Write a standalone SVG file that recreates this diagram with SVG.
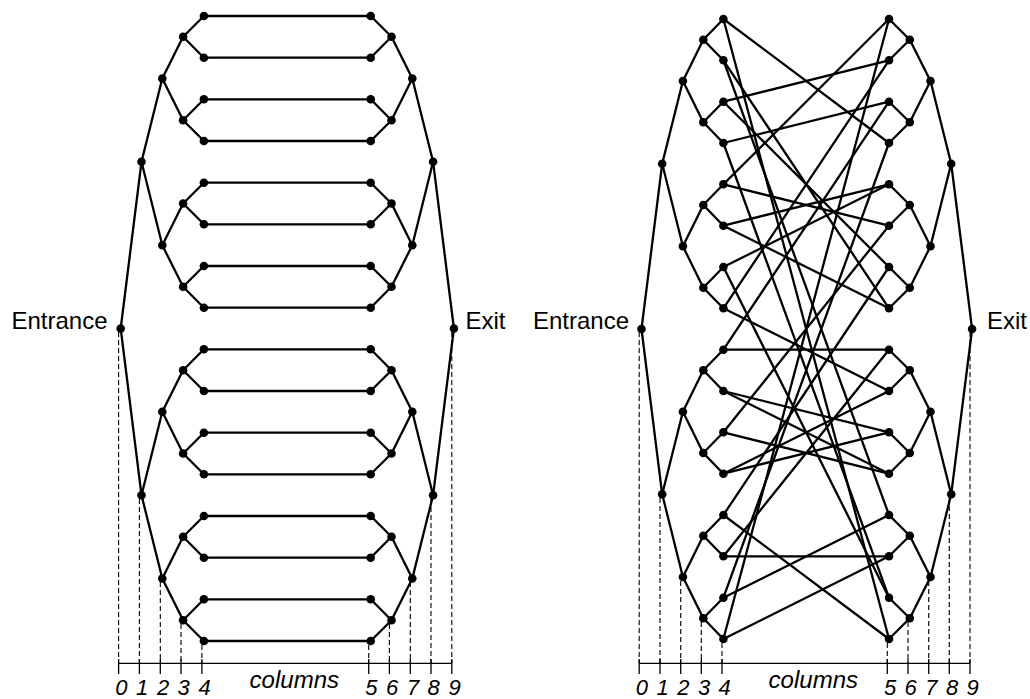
<svg xmlns="http://www.w3.org/2000/svg" width="1030" height="699" viewBox="0 0 1030 699">
<style>
.e line{stroke:#000;stroke-width:2.3;stroke-linecap:round}
.n circle{fill:#000}
.d line{stroke:#000;stroke-width:1.1;stroke-dasharray:5 3}
.ax line{stroke:#000;stroke-width:1.3}
text{font-family:"Liberation Sans",Arial,sans-serif;fill:#000}
.lab{font-size:24px}
.num{font-size:22px;font-style:italic;text-anchor:middle}
.col{font-size:24px;font-style:italic;text-anchor:middle}
</style>
<rect width="1030" height="699" fill="#fff"/>
<g id="axes-left" class="ax">
<line x1="118.6" y1="663.3" x2="451.8" y2="663.3"/>
<line x1="118.6" y1="659" x2="118.6" y2="674"/><line x1="139.4" y1="659" x2="139.4" y2="674"/><line x1="160.3" y1="659" x2="160.3" y2="674"/><line x1="181" y1="659" x2="181" y2="674"/><line x1="201.9" y1="659" x2="201.9" y2="674"/>
<line x1="368.7" y1="659" x2="368.7" y2="674"/><line x1="389.4" y1="659" x2="389.4" y2="674"/><line x1="410.3" y1="659" x2="410.3" y2="674"/><line x1="431" y1="659" x2="431" y2="674"/><line x1="451.8" y1="659" x2="451.8" y2="674"/>
</g>
<g id="axes-right" class="ax">
<line x1="639.2" y1="663.3" x2="970" y2="663.3"/>
<line x1="639.2" y1="659" x2="639.2" y2="674"/><line x1="660" y1="659" x2="660" y2="674"/><line x1="680.7" y1="659" x2="680.7" y2="674"/><line x1="701.3" y1="659" x2="701.3" y2="674"/><line x1="722" y1="659" x2="722" y2="674"/>
<line x1="887.3" y1="659" x2="887.3" y2="674"/><line x1="908" y1="659" x2="908" y2="674"/><line x1="928.7" y1="659" x2="928.7" y2="674"/><line x1="949.3" y1="659" x2="949.3" y2="674"/><line x1="970" y1="659" x2="970" y2="674"/>
</g>
<g id="column-guides" class="d">
<line x1="118.6" y1="332" x2="118.6" y2="663"/><line x1="139.4" y1="499" x2="139.4" y2="663"/><line x1="160.3" y1="582" x2="160.3" y2="663"/><line x1="181" y1="624" x2="181" y2="663"/><line x1="201.9" y1="645" x2="201.9" y2="663"/>
<line x1="368.7" y1="645" x2="368.7" y2="663"/><line x1="389.4" y1="624" x2="389.4" y2="663"/><line x1="410.3" y1="582" x2="410.3" y2="663"/><line x1="431" y1="499" x2="431" y2="663"/><line x1="451.8" y1="332" x2="451.8" y2="663"/>
<line x1="639.2" y1="332" x2="639.2" y2="663"/><line x1="660" y1="498" x2="660" y2="663"/><line x1="680.7" y1="581" x2="680.7" y2="663"/><line x1="701.3" y1="622" x2="701.3" y2="663"/><line x1="722" y1="643" x2="722" y2="663"/>
<line x1="887.3" y1="643" x2="887.3" y2="663"/><line x1="908" y1="622" x2="908" y2="663"/><line x1="928.7" y1="581" x2="928.7" y2="663"/><line x1="949.3" y1="498" x2="949.3" y2="663"/><line x1="970" y1="332" x2="970" y2="663"/>
</g>
<g id="axis-labels">
<text class="num" x="121.3" y="694.5">0</text><text class="num" x="142.1" y="694.5">1</text><text class="num" x="163" y="694.5">2</text><text class="num" x="183.7" y="694.5">3</text><text class="num" x="204.6" y="694.5">4</text>
<text class="num" x="371.4" y="694.5">5</text><text class="num" x="392.1" y="694.5">6</text><text class="num" x="413" y="694.5">7</text><text class="num" x="433.7" y="694.5">8</text><text class="num" x="454.5" y="694.5">9</text>
<text class="col" x="294.3" y="688">columns</text>
<text class="num" x="641.9" y="694.5">0</text><text class="num" x="662.7" y="694.5">1</text><text class="num" x="683.4" y="694.5">2</text><text class="num" x="704" y="694.5">3</text><text class="num" x="724.7" y="694.5">4</text>
<text class="num" x="890" y="694.5">5</text><text class="num" x="910.7" y="694.5">6</text><text class="num" x="931.4" y="694.5">7</text><text class="num" x="952" y="694.5">8</text><text class="num" x="972.7" y="694.5">9</text>
<text class="col" x="813.3" y="688">columns</text>
</g>
<g id="connectors" class="e">
<!-- left graph, entrance tree -->
<line x1="120.7" y1="328.5" x2="141.5" y2="161.8"/><line x1="120.7" y1="328.5" x2="141.5" y2="495.2"/>
<line x1="141.5" y1="161.8" x2="162.3" y2="78.5"/><line x1="141.5" y1="161.8" x2="162.3" y2="245.2"/><line x1="141.5" y1="495.2" x2="162.3" y2="411.8"/><line x1="141.5" y1="495.2" x2="162.3" y2="578.5"/>
<line x1="162.3" y1="78.5" x2="183.1" y2="36.8"/><line x1="162.3" y1="78.5" x2="183.1" y2="120.2"/><line x1="162.3" y1="245.2" x2="183.1" y2="203.5"/><line x1="162.3" y1="245.2" x2="183.1" y2="286.8"/>
<line x1="162.3" y1="411.8" x2="183.1" y2="370.2"/><line x1="162.3" y1="411.8" x2="183.1" y2="453.5"/><line x1="162.3" y1="578.5" x2="183.1" y2="536.8"/><line x1="162.3" y1="578.5" x2="183.1" y2="620.2"/>
<line x1="183.1" y1="36.8" x2="203.9" y2="16"/><line x1="183.1" y1="36.8" x2="203.9" y2="57.7"/><line x1="183.1" y1="120.2" x2="203.9" y2="99.3"/><line x1="183.1" y1="120.2" x2="203.9" y2="141"/>
<line x1="183.1" y1="203.5" x2="203.9" y2="182.7"/><line x1="183.1" y1="203.5" x2="203.9" y2="224.3"/><line x1="183.1" y1="286.8" x2="203.9" y2="266"/><line x1="183.1" y1="286.8" x2="203.9" y2="307.7"/>
<line x1="183.1" y1="370.2" x2="203.9" y2="349.3"/><line x1="183.1" y1="370.2" x2="203.9" y2="391"/><line x1="183.1" y1="453.5" x2="203.9" y2="432.7"/><line x1="183.1" y1="453.5" x2="203.9" y2="474.3"/>
<line x1="183.1" y1="536.8" x2="203.9" y2="516"/><line x1="183.1" y1="536.8" x2="203.9" y2="557.7"/><line x1="183.1" y1="620.2" x2="203.9" y2="599.3"/><line x1="183.1" y1="620.2" x2="203.9" y2="641"/>
<!-- left graph, glued leaves -->
<line x1="203.9" y1="16" x2="370.7" y2="16"/><line x1="203.9" y1="57.7" x2="370.7" y2="57.7"/><line x1="203.9" y1="99.3" x2="370.7" y2="99.3"/><line x1="203.9" y1="141" x2="370.7" y2="141"/>
<line x1="203.9" y1="182.7" x2="370.7" y2="182.7"/><line x1="203.9" y1="224.3" x2="370.7" y2="224.3"/><line x1="203.9" y1="266" x2="370.7" y2="266"/><line x1="203.9" y1="307.7" x2="370.7" y2="307.7"/>
<line x1="203.9" y1="349.3" x2="370.7" y2="349.3"/><line x1="203.9" y1="391" x2="370.7" y2="391"/><line x1="203.9" y1="432.7" x2="370.7" y2="432.7"/><line x1="203.9" y1="474.3" x2="370.7" y2="474.3"/>
<line x1="203.9" y1="516" x2="370.7" y2="516"/><line x1="203.9" y1="557.7" x2="370.7" y2="557.7"/><line x1="203.9" y1="599.3" x2="370.7" y2="599.3"/><line x1="203.9" y1="641" x2="370.7" y2="641"/>
<!-- left graph, exit tree -->
<line x1="453.9" y1="328.5" x2="433.1" y2="161.8"/><line x1="453.9" y1="328.5" x2="433.1" y2="495.2"/>
<line x1="433.1" y1="161.8" x2="412.3" y2="78.5"/><line x1="433.1" y1="161.8" x2="412.3" y2="245.2"/><line x1="433.1" y1="495.2" x2="412.3" y2="411.8"/><line x1="433.1" y1="495.2" x2="412.3" y2="578.5"/>
<line x1="412.3" y1="78.5" x2="391.5" y2="36.8"/><line x1="412.3" y1="78.5" x2="391.5" y2="120.2"/><line x1="412.3" y1="245.2" x2="391.5" y2="203.5"/><line x1="412.3" y1="245.2" x2="391.5" y2="286.8"/>
<line x1="412.3" y1="411.8" x2="391.5" y2="370.2"/><line x1="412.3" y1="411.8" x2="391.5" y2="453.5"/><line x1="412.3" y1="578.5" x2="391.5" y2="536.8"/><line x1="412.3" y1="578.5" x2="391.5" y2="620.2"/>
<line x1="391.5" y1="36.8" x2="370.7" y2="16"/><line x1="391.5" y1="36.8" x2="370.7" y2="57.7"/><line x1="391.5" y1="120.2" x2="370.7" y2="99.3"/><line x1="391.5" y1="120.2" x2="370.7" y2="141"/>
<line x1="391.5" y1="203.5" x2="370.7" y2="182.7"/><line x1="391.5" y1="203.5" x2="370.7" y2="224.3"/><line x1="391.5" y1="286.8" x2="370.7" y2="266"/><line x1="391.5" y1="286.8" x2="370.7" y2="307.7"/>
<line x1="391.5" y1="370.2" x2="370.7" y2="349.3"/><line x1="391.5" y1="370.2" x2="370.7" y2="391"/><line x1="391.5" y1="453.5" x2="370.7" y2="432.7"/><line x1="391.5" y1="453.5" x2="370.7" y2="474.3"/>
<line x1="391.5" y1="536.8" x2="370.7" y2="516"/><line x1="391.5" y1="536.8" x2="370.7" y2="557.7"/><line x1="391.5" y1="620.2" x2="370.7" y2="599.3"/><line x1="391.5" y1="620.2" x2="370.7" y2="641"/>
<!-- right graph, entrance tree -->
<line x1="641.5" y1="329" x2="662.2" y2="163.7"/><line x1="641.5" y1="329" x2="662.2" y2="494.3"/>
<line x1="662.2" y1="163.7" x2="682.9" y2="81"/><line x1="662.2" y1="163.7" x2="682.9" y2="246.3"/><line x1="662.2" y1="494.3" x2="682.9" y2="411.7"/><line x1="662.2" y1="494.3" x2="682.9" y2="577"/>
<line x1="682.9" y1="81" x2="703.3" y2="39.7"/><line x1="682.9" y1="81" x2="703.3" y2="122.3"/><line x1="682.9" y1="246.3" x2="703.3" y2="205"/><line x1="682.9" y1="246.3" x2="703.3" y2="287.7"/>
<line x1="682.9" y1="411.7" x2="703.3" y2="370.3"/><line x1="682.9" y1="411.7" x2="703.3" y2="453"/><line x1="682.9" y1="577" x2="703.3" y2="535.7"/><line x1="682.9" y1="577" x2="703.3" y2="618.3"/>
<line x1="703.3" y1="39.7" x2="723.4" y2="19"/><line x1="703.3" y1="39.7" x2="723.4" y2="60.3"/><line x1="703.3" y1="122.3" x2="723.4" y2="101.7"/><line x1="703.3" y1="122.3" x2="723.4" y2="143"/>
<line x1="703.3" y1="205" x2="723.4" y2="184.3"/><line x1="703.3" y1="205" x2="723.4" y2="225.7"/><line x1="703.3" y1="287.7" x2="723.4" y2="267"/><line x1="703.3" y1="287.7" x2="723.4" y2="308.3"/>
<line x1="703.3" y1="370.3" x2="723.4" y2="349.7"/><line x1="703.3" y1="370.3" x2="723.4" y2="391"/><line x1="703.3" y1="453" x2="723.4" y2="432.3"/><line x1="703.3" y1="453" x2="723.4" y2="473.7"/>
<line x1="703.3" y1="535.7" x2="723.4" y2="515"/><line x1="703.3" y1="535.7" x2="723.4" y2="556.3"/><line x1="703.3" y1="618.3" x2="723.4" y2="597.7"/><line x1="703.3" y1="618.3" x2="723.4" y2="639"/>
<!-- right graph, random cycle between leaves -->
<line x1="723.4" y1="19" x2="889" y2="143"/><line x1="723.4" y1="19" x2="889" y2="639"/>
<line x1="723.4" y1="60.3" x2="889" y2="308.3"/><line x1="723.4" y1="60.3" x2="889" y2="515"/>
<line x1="723.4" y1="101.7" x2="889" y2="60.3"/><line x1="723.4" y1="101.7" x2="889" y2="267"/>
<line x1="723.4" y1="143" x2="889" y2="101.7"/><line x1="723.4" y1="143" x2="889" y2="597.7"/>
<line x1="723.4" y1="184.3" x2="889" y2="19"/><line x1="723.4" y1="184.3" x2="889" y2="225.7"/>
<line x1="723.4" y1="225.7" x2="889" y2="184.3"/><line x1="723.4" y1="225.7" x2="889" y2="308.3"/>
<line x1="723.4" y1="267" x2="889" y2="184.3"/><line x1="723.4" y1="267" x2="889" y2="597.7"/>
<line x1="723.4" y1="308.3" x2="889" y2="60.3"/><line x1="723.4" y1="308.3" x2="889" y2="391"/>
<line x1="723.4" y1="349.7" x2="889" y2="101.7"/><line x1="723.4" y1="349.7" x2="889" y2="349.7"/>
<line x1="723.4" y1="391" x2="889" y2="432.3"/><line x1="723.4" y1="391" x2="889" y2="473.7"/>
<line x1="723.4" y1="432.3" x2="889" y2="225.7"/><line x1="723.4" y1="432.3" x2="889" y2="473.7"/>
<line x1="723.4" y1="473.7" x2="889" y2="391"/><line x1="723.4" y1="473.7" x2="889" y2="432.3"/>
<line x1="723.4" y1="515" x2="889" y2="267"/><line x1="723.4" y1="515" x2="889" y2="639"/>
<line x1="723.4" y1="556.3" x2="889" y2="349.7"/><line x1="723.4" y1="556.3" x2="889" y2="556.3"/>
<line x1="723.4" y1="597.7" x2="889" y2="143"/><line x1="723.4" y1="597.7" x2="889" y2="515"/>
<line x1="723.4" y1="639" x2="889" y2="19"/><line x1="723.4" y1="639" x2="889" y2="556.3"/>
<!-- right graph, exit tree -->
<line x1="972.1" y1="329" x2="951.2" y2="163.7"/><line x1="972.1" y1="329" x2="951.2" y2="494.3"/>
<line x1="951.2" y1="163.7" x2="930.5" y2="81"/><line x1="951.2" y1="163.7" x2="930.5" y2="246.3"/><line x1="951.2" y1="494.3" x2="930.5" y2="411.7"/><line x1="951.2" y1="494.3" x2="930.5" y2="577"/>
<line x1="930.5" y1="81" x2="909.8" y2="39.7"/><line x1="930.5" y1="81" x2="909.8" y2="122.3"/><line x1="930.5" y1="246.3" x2="909.8" y2="205"/><line x1="930.5" y1="246.3" x2="909.8" y2="287.7"/>
<line x1="930.5" y1="411.7" x2="909.8" y2="370.3"/><line x1="930.5" y1="411.7" x2="909.8" y2="453"/><line x1="930.5" y1="577" x2="909.8" y2="535.7"/><line x1="930.5" y1="577" x2="909.8" y2="618.3"/>
<line x1="909.8" y1="39.7" x2="889" y2="19"/><line x1="909.8" y1="39.7" x2="889" y2="60.3"/><line x1="909.8" y1="122.3" x2="889" y2="101.7"/><line x1="909.8" y1="122.3" x2="889" y2="143"/>
<line x1="909.8" y1="205" x2="889" y2="184.3"/><line x1="909.8" y1="205" x2="889" y2="225.7"/><line x1="909.8" y1="287.7" x2="889" y2="267"/><line x1="909.8" y1="287.7" x2="889" y2="308.3"/>
<line x1="909.8" y1="370.3" x2="889" y2="349.7"/><line x1="909.8" y1="370.3" x2="889" y2="391"/><line x1="909.8" y1="453" x2="889" y2="432.3"/><line x1="909.8" y1="453" x2="889" y2="473.7"/>
<line x1="909.8" y1="535.7" x2="889" y2="515"/><line x1="909.8" y1="535.7" x2="889" y2="556.3"/><line x1="909.8" y1="618.3" x2="889" y2="597.7"/><line x1="909.8" y1="618.3" x2="889" y2="639"/>
</g>
<g id="nodes-left" class="n">
<g id="A-entrance"><circle cx="120.7" cy="328.5" r="4.3"/><text class="lab" x="107.5" y="329.3" text-anchor="end">Entrance</text></g>
<g id="A-c1-0"><circle cx="141.5" cy="161.8" r="4.3"/></g><g id="A-c1-1"><circle cx="141.5" cy="495.2" r="4.3"/></g>
<g id="A-c2-0"><circle cx="162.3" cy="78.5" r="4.3"/></g><g id="A-c2-1"><circle cx="162.3" cy="245.2" r="4.3"/></g><g id="A-c2-2"><circle cx="162.3" cy="411.8" r="4.3"/></g><g id="A-c2-3"><circle cx="162.3" cy="578.5" r="4.3"/></g>
<g id="A-c3-0"><circle cx="183.1" cy="36.8" r="4.3"/></g><g id="A-c3-1"><circle cx="183.1" cy="120.2" r="4.3"/></g><g id="A-c3-2"><circle cx="183.1" cy="203.5" r="4.3"/></g><g id="A-c3-3"><circle cx="183.1" cy="286.8" r="4.3"/></g>
<g id="A-c3-4"><circle cx="183.1" cy="370.2" r="4.3"/></g><g id="A-c3-5"><circle cx="183.1" cy="453.5" r="4.3"/></g><g id="A-c3-6"><circle cx="183.1" cy="536.8" r="4.3"/></g><g id="A-c3-7"><circle cx="183.1" cy="620.2" r="4.3"/></g>
<g id="A-c4-0"><circle cx="203.9" cy="16" r="4.3"/></g><g id="A-c4-1"><circle cx="203.9" cy="57.7" r="4.3"/></g><g id="A-c4-2"><circle cx="203.9" cy="99.3" r="4.3"/></g><g id="A-c4-3"><circle cx="203.9" cy="141" r="4.3"/></g>
<g id="A-c4-4"><circle cx="203.9" cy="182.7" r="4.3"/></g><g id="A-c4-5"><circle cx="203.9" cy="224.3" r="4.3"/></g><g id="A-c4-6"><circle cx="203.9" cy="266" r="4.3"/></g><g id="A-c4-7"><circle cx="203.9" cy="307.7" r="4.3"/></g>
<g id="A-c4-8"><circle cx="203.9" cy="349.3" r="4.3"/></g><g id="A-c4-9"><circle cx="203.9" cy="391" r="4.3"/></g><g id="A-c4-10"><circle cx="203.9" cy="432.7" r="4.3"/></g><g id="A-c4-11"><circle cx="203.9" cy="474.3" r="4.3"/></g>
<g id="A-c4-12"><circle cx="203.9" cy="516" r="4.3"/></g><g id="A-c4-13"><circle cx="203.9" cy="557.7" r="4.3"/></g><g id="A-c4-14"><circle cx="203.9" cy="599.3" r="4.3"/></g><g id="A-c4-15"><circle cx="203.9" cy="641" r="4.3"/></g>
<g id="A-c5-0"><circle cx="370.7" cy="16" r="4.3"/></g><g id="A-c5-1"><circle cx="370.7" cy="57.7" r="4.3"/></g><g id="A-c5-2"><circle cx="370.7" cy="99.3" r="4.3"/></g><g id="A-c5-3"><circle cx="370.7" cy="141" r="4.3"/></g>
<g id="A-c5-4"><circle cx="370.7" cy="182.7" r="4.3"/></g><g id="A-c5-5"><circle cx="370.7" cy="224.3" r="4.3"/></g><g id="A-c5-6"><circle cx="370.7" cy="266" r="4.3"/></g><g id="A-c5-7"><circle cx="370.7" cy="307.7" r="4.3"/></g>
<g id="A-c5-8"><circle cx="370.7" cy="349.3" r="4.3"/></g><g id="A-c5-9"><circle cx="370.7" cy="391" r="4.3"/></g><g id="A-c5-10"><circle cx="370.7" cy="432.7" r="4.3"/></g><g id="A-c5-11"><circle cx="370.7" cy="474.3" r="4.3"/></g>
<g id="A-c5-12"><circle cx="370.7" cy="516" r="4.3"/></g><g id="A-c5-13"><circle cx="370.7" cy="557.7" r="4.3"/></g><g id="A-c5-14"><circle cx="370.7" cy="599.3" r="4.3"/></g><g id="A-c5-15"><circle cx="370.7" cy="641" r="4.3"/></g>
<g id="A-c6-0"><circle cx="391.5" cy="36.8" r="4.3"/></g><g id="A-c6-1"><circle cx="391.5" cy="120.2" r="4.3"/></g><g id="A-c6-2"><circle cx="391.5" cy="203.5" r="4.3"/></g><g id="A-c6-3"><circle cx="391.5" cy="286.8" r="4.3"/></g>
<g id="A-c6-4"><circle cx="391.5" cy="370.2" r="4.3"/></g><g id="A-c6-5"><circle cx="391.5" cy="453.5" r="4.3"/></g><g id="A-c6-6"><circle cx="391.5" cy="536.8" r="4.3"/></g><g id="A-c6-7"><circle cx="391.5" cy="620.2" r="4.3"/></g>
<g id="A-c7-0"><circle cx="412.3" cy="78.5" r="4.3"/></g><g id="A-c7-1"><circle cx="412.3" cy="245.2" r="4.3"/></g><g id="A-c7-2"><circle cx="412.3" cy="411.8" r="4.3"/></g><g id="A-c7-3"><circle cx="412.3" cy="578.5" r="4.3"/></g>
<g id="A-c8-0"><circle cx="433.1" cy="161.8" r="4.3"/></g><g id="A-c8-1"><circle cx="433.1" cy="495.2" r="4.3"/></g>
<g id="A-exit"><circle cx="453.9" cy="328.5" r="4.3"/><text class="lab" x="465.5" y="329.3">Exit</text></g>
</g>
<g id="nodes-right" class="n">
<g id="B-entrance"><circle cx="641.5" cy="329" r="4.3"/><text class="lab" x="629" y="329.3" text-anchor="end">Entrance</text></g>
<g id="B-c1-0"><circle cx="662.2" cy="163.7" r="4.3"/></g><g id="B-c1-1"><circle cx="662.2" cy="494.3" r="4.3"/></g>
<g id="B-c2-0"><circle cx="682.9" cy="81" r="4.3"/></g><g id="B-c2-1"><circle cx="682.9" cy="246.3" r="4.3"/></g><g id="B-c2-2"><circle cx="682.9" cy="411.7" r="4.3"/></g><g id="B-c2-3"><circle cx="682.9" cy="577" r="4.3"/></g>
<g id="B-c3-0"><circle cx="703.3" cy="39.7" r="4.3"/></g><g id="B-c3-1"><circle cx="703.3" cy="122.3" r="4.3"/></g><g id="B-c3-2"><circle cx="703.3" cy="205" r="4.3"/></g><g id="B-c3-3"><circle cx="703.3" cy="287.7" r="4.3"/></g>
<g id="B-c3-4"><circle cx="703.3" cy="370.3" r="4.3"/></g><g id="B-c3-5"><circle cx="703.3" cy="453" r="4.3"/></g><g id="B-c3-6"><circle cx="703.3" cy="535.7" r="4.3"/></g><g id="B-c3-7"><circle cx="703.3" cy="618.3" r="4.3"/></g>
<g id="B-c4-0"><circle cx="723.4" cy="19" r="4.3"/></g><g id="B-c4-1"><circle cx="723.4" cy="60.3" r="4.3"/></g><g id="B-c4-2"><circle cx="723.4" cy="101.7" r="4.3"/></g><g id="B-c4-3"><circle cx="723.4" cy="143" r="4.3"/></g>
<g id="B-c4-4"><circle cx="723.4" cy="184.3" r="4.3"/></g><g id="B-c4-5"><circle cx="723.4" cy="225.7" r="4.3"/></g><g id="B-c4-6"><circle cx="723.4" cy="267" r="4.3"/></g><g id="B-c4-7"><circle cx="723.4" cy="308.3" r="4.3"/></g>
<g id="B-c4-8"><circle cx="723.4" cy="349.7" r="4.3"/></g><g id="B-c4-9"><circle cx="723.4" cy="391" r="4.3"/></g><g id="B-c4-10"><circle cx="723.4" cy="432.3" r="4.3"/></g><g id="B-c4-11"><circle cx="723.4" cy="473.7" r="4.3"/></g>
<g id="B-c4-12"><circle cx="723.4" cy="515" r="4.3"/></g><g id="B-c4-13"><circle cx="723.4" cy="556.3" r="4.3"/></g><g id="B-c4-14"><circle cx="723.4" cy="597.7" r="4.3"/></g><g id="B-c4-15"><circle cx="723.4" cy="639" r="4.3"/></g>
<g id="B-c5-0"><circle cx="889" cy="19" r="4.3"/></g><g id="B-c5-1"><circle cx="889" cy="60.3" r="4.3"/></g><g id="B-c5-2"><circle cx="889" cy="101.7" r="4.3"/></g><g id="B-c5-3"><circle cx="889" cy="143" r="4.3"/></g>
<g id="B-c5-4"><circle cx="889" cy="184.3" r="4.3"/></g><g id="B-c5-5"><circle cx="889" cy="225.7" r="4.3"/></g><g id="B-c5-6"><circle cx="889" cy="267" r="4.3"/></g><g id="B-c5-7"><circle cx="889" cy="308.3" r="4.3"/></g>
<g id="B-c5-8"><circle cx="889" cy="349.7" r="4.3"/></g><g id="B-c5-9"><circle cx="889" cy="391" r="4.3"/></g><g id="B-c5-10"><circle cx="889" cy="432.3" r="4.3"/></g><g id="B-c5-11"><circle cx="889" cy="473.7" r="4.3"/></g>
<g id="B-c5-12"><circle cx="889" cy="515" r="4.3"/></g><g id="B-c5-13"><circle cx="889" cy="556.3" r="4.3"/></g><g id="B-c5-14"><circle cx="889" cy="597.7" r="4.3"/></g><g id="B-c5-15"><circle cx="889" cy="639" r="4.3"/></g>
<g id="B-c6-0"><circle cx="909.8" cy="39.7" r="4.3"/></g><g id="B-c6-1"><circle cx="909.8" cy="122.3" r="4.3"/></g><g id="B-c6-2"><circle cx="909.8" cy="205" r="4.3"/></g><g id="B-c6-3"><circle cx="909.8" cy="287.7" r="4.3"/></g>
<g id="B-c6-4"><circle cx="909.8" cy="370.3" r="4.3"/></g><g id="B-c6-5"><circle cx="909.8" cy="453" r="4.3"/></g><g id="B-c6-6"><circle cx="909.8" cy="535.7" r="4.3"/></g><g id="B-c6-7"><circle cx="909.8" cy="618.3" r="4.3"/></g>
<g id="B-c7-0"><circle cx="930.5" cy="81" r="4.3"/></g><g id="B-c7-1"><circle cx="930.5" cy="246.3" r="4.3"/></g><g id="B-c7-2"><circle cx="930.5" cy="411.7" r="4.3"/></g><g id="B-c7-3"><circle cx="930.5" cy="577" r="4.3"/></g>
<g id="B-c8-0"><circle cx="951.2" cy="163.7" r="4.3"/></g><g id="B-c8-1"><circle cx="951.2" cy="494.3" r="4.3"/></g>
<g id="B-exit"><circle cx="972.1" cy="329" r="4.3"/><text class="lab" x="987" y="329.3">Exit</text></g>
</g>
</svg>
